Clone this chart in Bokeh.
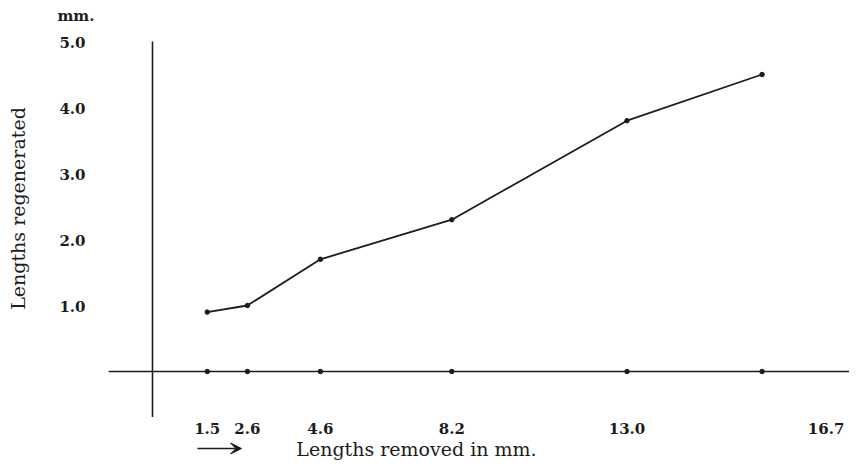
import math
from bokeh.plotting import figure
from bokeh.models import Label, LabelSet, ColumnDataSource, Range1d, Arrow, VeeHead
from bokeh.core.properties import value
from bokeh.embed import file_html
from bokeh.resources import INLINE

# ---- data ----
removed = [1.5, 2.6, 4.6, 8.2, 13.0, 16.7]          # lengths removed (mm)
regenerated = [0.9, 1.0, 1.7, 2.3, 3.8, 4.5]        # lengths regenerated (mm)
x_tick_labels = ["1.5", "2.6", "4.6", "8.2", "13.0", "16.7"]
y_ticks = [1, 2, 3, 4, 5]
y_tick_labels = ["1.0", "2.0", "3.0", "4.0", "5.0"]

# ---- layout / styling ----
x_label_nudge = [0, 0, 0, 0, 0, 64]   # pixel nudge of printed x labels (as in the print)
INK = "#1c1c1c"
SERIF = "DejaVu Serif"
W, H = 849, 460
PX_X, PX_Y = 36.5, 66.0               # pixels per mm on each axis
ORIGIN_X, ORIGIN_Y = 152, 371         # canvas position of (0, 0)
x_rng = Range1d(-ORIGIN_X / PX_X, (W - ORIGIN_X) / PX_X)
y_rng = Range1d(-(H - ORIGIN_Y) / PX_Y, ORIGIN_Y / PX_Y)
V_AXIS_BOTTOM = -0.69                 # vertical axis runs down past the baseline
H_AXIS_LEFT = -1.2                    # baseline starts left of the vertical axis

p = figure(width=W, height=H, output_backend="svg", toolbar_location=None,
           x_range=x_rng, y_range=y_rng,
           min_border=0, min_border_left=0, min_border_right=0,
           min_border_top=0, min_border_bottom=0)
p.outline_line_color = None
p.grid.visible = False
p.xaxis.visible = False
p.yaxis.visible = False
p.background_fill_color = "white"
p.border_fill_color = "white"

# crossing axes
p.segment(x0=[0], y0=[V_AXIS_BOTTOM], x1=[0], y1=[y_ticks[-1]],
          line_color=INK, line_width=1.6)
p.segment(x0=[H_AXIS_LEFT], y0=[0], x1=[x_rng.end], y1=[0],
          line_color=INK, line_width=1.6)

# curve and points
p.line(removed, regenerated, line_color=INK, line_width=1.8)
p.scatter(removed, regenerated, size=4.5, color=INK)
p.scatter(removed, [0] * len(removed), size=4.5, color=INK)

# x tick labels (below the baseline)
xsrc = ColumnDataSource(dict(x=removed, y=[0] * len(removed),
                             text=x_tick_labels, dx=x_label_nudge))
p.add_layout(LabelSet(x="x", y="y", text="text", x_offset="dx", y_offset=-57,
                      source=xsrc, text_align="center", text_baseline="middle",
                      text_font=value(SERIF), text_font_style="bold",
                      text_font_size="15px", text_color=INK))

# y tick labels (left of the vertical axis)
ysrc = ColumnDataSource(dict(x=[0] * len(y_ticks), y=y_ticks, text=y_tick_labels))
p.add_layout(LabelSet(x="x", y="y", text="text", x_offset=-67, y_offset=-1,
                      source=ysrc, text_align="right", text_baseline="middle",
                      text_font=value(SERIF), text_font_style="bold",
                      text_font_size="15px", text_color=INK))

# unit above the y scale
p.add_layout(Label(x=57, y=H - 15, x_units="screen", y_units="screen",
                   text="mm.", text_align="left", text_baseline="middle",
                   text_font=SERIF, text_font_style="bold",
                   text_font_size="15px", text_color=INK))

# y title (rotated)
p.add_layout(Label(x=17, y=H - 208, x_units="screen", y_units="screen",
                   text="Lengths regenerated", angle=math.pi / 2,
                   text_align="center", text_baseline="middle",
                   text_font=SERIF, text_font_size="19px", text_color=INK))

# x title with arrow
p.add_layout(Arrow(x_start=197, y_start=H - 448, x_end=241, y_end=H - 448,
                   start_units="screen", end_units="screen",
                   line_color=INK, line_width=1.4,
                   end=VeeHead(size=11, fill_color=INK, line_color=INK)))
p.add_layout(Label(x=416, y=H - 448, x_units="screen", y_units="screen",
                   text="Lengths removed in mm.", text_align="center",
                   text_baseline="middle", text_font=SERIF,
                   text_font_size="19px", text_color=INK))

open("out.html", "w").write(file_html(p, INLINE))
